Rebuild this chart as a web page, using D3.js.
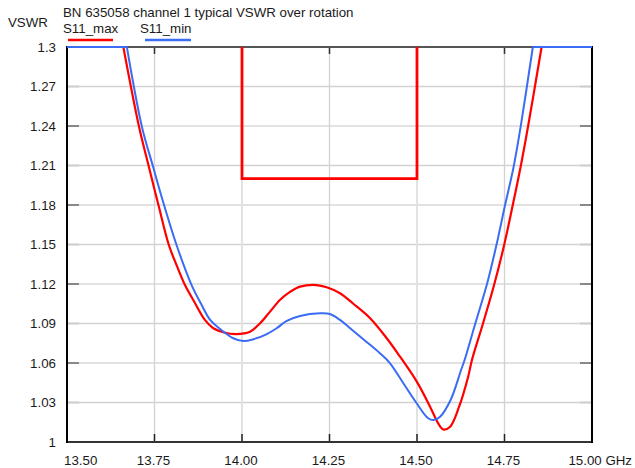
<!DOCTYPE html>
<html lang="en">

<head>
  <meta charset="UTF-8">
  <script src="https://d3js.org/d3.v7.min.js"></script>
  <title>VSWR over rotation</title>
  <style>
    body {
      margin: 0;
      background: #fff;
    }

    text {
      font-family: "Liberation Sans", Arial, Helvetica, sans-serif;
      font-size: 13.3px;
      fill: #1a1a1a;
    }
  </style>
</head>

<body>
  <div id="chart"></div>
  <script>
    // Chart values
    const title = "BN 635058 channel 1 typical VSWR over rotation";
    const yLabel = "VSWR";
    const seriesNames = ["S11_max", "S11_min"];

    const xTicks = [13.5, 13.75, 14.0, 14.25, 14.5, 14.75, 15.0];
    const xTickLabels = ["13.50", "13.75", "14.00", "14.25", "14.50", "14.75", "15.00 GHz"];
    const yTicks = [1, 1.03, 1.06, 1.09, 1.12, 1.15, 1.18, 1.21, 1.24, 1.27, 1.3];
    const yTickLabels = ["1", "1.03", "1.06", "1.09", "1.12", "1.15", "1.18", "1.21", "1.24", "1.27", "1.3"];

    // S11_max (red)
    const maxFreq = [13.5, 13.661, 13.706, 13.734, 13.762, 13.791, 13.814, 13.837, 13.864, 13.894, 13.917,
      13.949, 13.983, 14.023, 14.051, 14.08, 14.109, 14.137, 14.166, 14.213, 14.242, 14.28, 14.318, 14.366,
      14.413, 14.451, 14.499, 14.537, 14.561, 14.575, 14.594, 14.62, 14.646, 14.657, 14.689, 14.721, 14.749,
      14.773, 14.796, 14.817, 14.856, 15.0];
    const maxVswr = [1.3, 1.3, 1.2392, 1.2089, 1.1792, 1.1496, 1.1337, 1.1192, 1.1063, 1.0927, 1.0866,
      1.0832, 1.082, 1.0838, 1.09, 1.099, 1.108, 1.114, 1.118, 1.1192, 1.1175, 1.113, 1.105, 1.094,
      1.079, 1.065, 1.046, 1.027, 1.014, 1.0095, 1.0114, 1.0266, 1.0494, 1.0623, 1.0904, 1.12, 1.1496,
      1.1792, 1.2089, 1.2392, 1.3, 1.3];

    // S11_min (blue)
    const minFreq = [13.5, 13.671, 13.714, 13.746, 13.773, 13.813, 13.856, 13.883, 13.909, 13.947, 13.975,
      14.004, 14.032, 14.071, 14.099, 14.128, 14.166, 14.223, 14.251, 14.28, 14.309, 14.356, 14.394, 14.423,
      14.461, 14.499, 14.532, 14.547, 14.566, 14.596, 14.626, 14.636, 14.667, 14.7, 14.727, 14.751, 14.776,
      14.796, 14.831, 15.0];
    const minVswr = [1.3, 1.3, 1.2395, 1.209, 1.1838, 1.1496, 1.1192, 1.105, 1.0927, 1.0838, 1.0788,
      1.0767, 1.078, 1.082, 1.0864, 1.092, 1.0957, 1.0977, 1.0972, 1.0927, 1.0864, 1.076, 1.0674, 1.0598,
      1.0446, 1.0294, 1.018, 1.0167, 1.0192, 1.0319, 1.0547, 1.0623, 1.0904, 1.12, 1.1496, 1.1792, 1.2089,
      1.2392, 1.3, 1.3];

    // Spec mask (red U shape)
    const maskFreq = [14.0, 14.0, 14.5, 14.5];
    const maskVswr = [1.3, 1.2, 1.2, 1.3];

    const width = 635;
    const height = 468;
    const margin = { top: 47, right: 43, bottom: 26, left: 67 };
    const red = "#ff0000";
    const blue = "#3a6cf4";

    const svg = d3.select("#chart")
      .append("svg")
      .attr("width", width)
      .attr("height", height);

    const x = d3.scaleLinear()
      .domain([13.5, 15.0])
      .range([margin.left, width - margin.right]);

    const y = d3.scaleLinear()
      .domain([1, 1.3])
      .range([height - margin.bottom, margin.top]);

    const x0 = x.range()[0], x1 = x.range()[1];
    const y0 = y.range()[0], y1 = y.range()[1];

    // grid
    const grid = svg.append("g");
    grid.selectAll(".hgrid")
      .data(yTicks.slice(1, -1))
      .enter()
      .append("line")
      .attr("x1", x0).attr("x2", x1)
      .attr("y1", d => y(d)).attr("y2", d => y(d))
      .attr("stroke", (d, i) => i % 2 ? "#e2e2e2" : "#d2d2d2")
      .attr("stroke-width", (d, i) => i % 2 ? 2 : 1.3);

    grid.selectAll(".vgrid")
      .data(xTicks.slice(1, -1))
      .enter()
      .append("line")
      .attr("y1", y0).attr("y2", y1)
      .attr("x1", d => x(d)).attr("x2", d => x(d))
      .attr("stroke", (d, i) => i % 2 ? "#e2e2e2" : "#d2d2d2")
      .attr("stroke-width", (d, i) => i % 2 ? 2 : 1.3);

    // tick marks on all four sides, pointing inward
    const ticks = svg.append("g");
    yTicks.slice(1, -1).forEach((v, i) => {
      const c = i % 2 ? "#888" : "#cfcfcf";
      ticks.append("line").attr("x1", x0).attr("x2", x0 + 12)
        .attr("y1", y(v)).attr("y2", y(v)).attr("stroke", c).attr("stroke-width", 2);
      ticks.append("line").attr("x1", x1).attr("x2", x1 - 12)
        .attr("y1", y(v)).attr("y2", y(v)).attr("stroke", c).attr("stroke-width", 2);
    });
    xTicks.slice(1, -1).forEach(v => {
      ticks.append("line").attr("x1", x(v)).attr("x2", x(v))
        .attr("y1", y0).attr("y2", y0 - 8).attr("stroke", "#222").attr("stroke-width", 1.5);
      ticks.append("line").attr("x1", x(v)).attr("x2", x(v))
        .attr("y1", y1).attr("y2", y1 + 7).attr("stroke", "#333").attr("stroke-width", 1.5);
    });

    // frame
    svg.append("line").attr("x1", x0).attr("x2", x1).attr("y1", y1).attr("y2", y1)
      .attr("stroke", "#555").attr("stroke-width", 2);
    svg.append("line").attr("x1", x0).attr("x2", x1).attr("y1", y0).attr("y2", y0)
      .attr("stroke", "#333").attr("stroke-width", 2);
    svg.append("line").attr("x1", x0).attr("x2", x0).attr("y1", y1 - 1).attr("y2", y0 + 1)
      .attr("stroke", "#000").attr("stroke-width", 2);
    svg.append("line").attr("x1", x1).attr("x2", x1).attr("y1", y1 - 1).attr("y2", y0 + 1)
      .attr("stroke", "#000").attr("stroke-width", 2);

    // axis labels
    svg.append("g").selectAll("text")
      .data(yTicks)
      .enter()
      .append("text")
      .attr("x", 56)
      .attr("y", d => y(d) + 4.5)
      .attr("text-anchor", "end")
      .text((d, i) => yTickLabels[i]);

    svg.append("g").selectAll("text")
      .data(xTicks)
      .enter()
      .append("text")
      .attr("x", (d, i) => i === 0 ? x(d) - 3 : i === xTicks.length - 1 ? x(d) + 40 : x(d) - 1)
      .attr("y", 465)
      .attr("text-anchor", (d, i) => i === 0 ? "start" : i === xTicks.length - 1 ? "end" : "middle")
      .text((d, i) => xTickLabels[i]);

    // mask
    const mask = maskFreq.map((f, i) => [f, maskVswr[i]]);
    svg.append("path")
      .attr("d", d3.line().x(d => x(d[0])).y(d => y(d[1]))(mask))
      .attr("fill", "none")
      .attr("stroke", red)
      .attr("stroke-width", 2.8);

    // curves: flat parts at the top limit are straight, the rest smoothed
    function drawSeries(freq, vswr, color, w) {
      const pts = freq.map((f, i) => [f, vswr[i]]);
      const top = y.domain()[1];
      let a = 0;
      while (a + 1 < pts.length && pts[a + 1][1] >= top) a++;
      let b = pts.length - 1;
      while (b - 1 > 0 && pts[b - 1][1] >= top) b--;
      const straight = d3.line().x(d => x(d[0])).y(d => y(d[1]));
      const smooth = d3.line().x(d => x(d[0])).y(d => y(d[1])).curve(d3.curveCatmullRom.alpha(0.5));
      const g = svg.append("g")
        .attr("fill", "none")
        .attr("stroke", color)
        .attr("stroke-width", w)
        .attr("stroke-linejoin", "round");
      g.append("path").attr("d", straight(pts.slice(0, a + 1)));
      g.append("path").attr("d", smooth(pts.slice(a, b + 1)));
      g.append("path").attr("d", straight(pts.slice(b)));
    }

    drawSeries(maxFreq, maxVswr, red, 2.2);
    drawSeries(minFreq, minVswr, blue, 2);

    // title, y label, legend
    svg.append("text").attr("x", 63).attr("y", 17).text(title);
    svg.append("text").attr("x", 8).attr("y", 27).text(yLabel);

    const legend = svg.append("g");
    [[63, 68, 113, red], [140, 145, 191, blue]].forEach((p, i) => {
      legend.append("text").attr("x", p[0]).attr("y", 33).text(seriesNames[i]);
      legend.append("line")
        .attr("x1", p[1]).attr("x2", p[2])
        .attr("y1", 40).attr("y2", 40)
        .attr("stroke", p[3])
        .attr("stroke-width", 2.5);
    });
  </script>
</body>

</html>
